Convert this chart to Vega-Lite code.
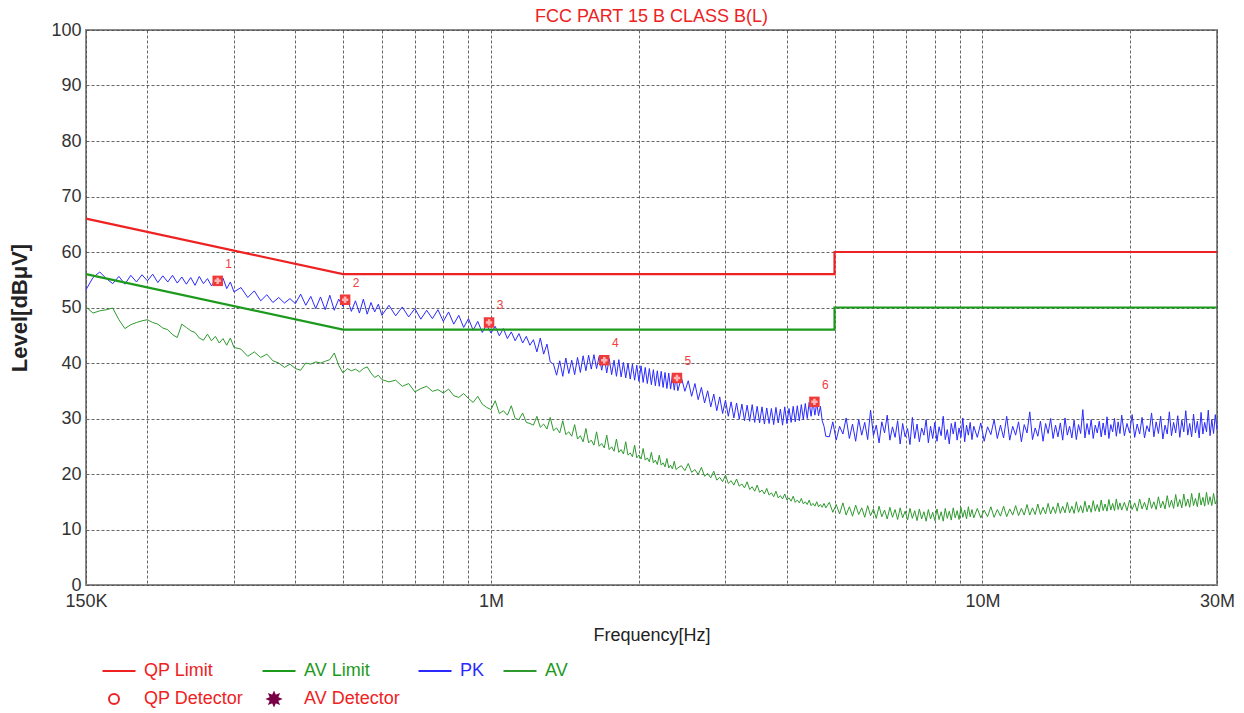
{
"$schema":"https://vega.github.io/schema/vega-lite/v6.json",
"width":1131,"height":555,
"autosize":{"type":"none"},
"padding":{"left":86,"top":30,"right":27,"bottom":128},
"background":"white",
"title":{"text":"FCC PART 15 B CLASS B(L)","color":"#ee2222","fontSize":18,"font":"Liberation Sans","fontWeight":"normal","frame":"group","offset":7,"dy":12},
"datasets":{
"limits":[
{"series":"QP Limit","kHz":150,"v":66,"o":1},{"series":"QP Limit","kHz":500,"v":56,"o":2},{"series":"QP Limit","kHz":5000,"v":56,"o":3},{"series":"QP Limit","kHz":5000,"v":60,"o":4},{"series":"QP Limit","kHz":30000,"v":60,"o":5},
{"series":"AV Limit","kHz":150,"v":56,"o":1},{"series":"AV Limit","kHz":500,"v":46,"o":2},{"series":"AV Limit","kHz":5000,"v":46,"o":3},{"series":"AV Limit","kHz":5000,"v":50,"o":4},{"series":"AV Limit","kHz":30000,"v":50,"o":5}
],
"markers":[
{"n":"1","kHz":278,"v":54.8},{"n":"2","kHz":505,"v":51.4},{"n":"3","kHz":991,"v":47.3},{"n":"4","kHz":1700,"v":40.5},{"n":"5","kHz":2390,"v":37.3},{"n":"6","kHz":4550,"v":33.0}
],
"traces":[
{"kHz":150,"PK":53.2,"AV":50.1},{"kHz":155,"PK":55.4,"AV":49.0},{"kHz":160,"PK":56.4,"AV":49.4},{"kHz":165,"PK":55.2,"AV":49.6},{"kHz":170,"PK":54.3,"AV":49.9},{"kHz":175,"PK":55.6,"AV":47.8},{"kHz":180,"PK":54.2,"AV":46.2},{"kHz":185,"PK":55.8,"AV":46.9},{"kHz":190,"PK":54.6,"AV":47.3},{"kHz":195,"PK":55.9,"AV":47.6},
{"kHz":200,"PK":54.8,"AV":47.8},{"kHz":205,"PK":56.0,"AV":47.3},{"kHz":210,"PK":54.5,"AV":47.0},{"kHz":215,"PK":55.7,"AV":46.3},{"kHz":220,"PK":54.6,"AV":46.0},{"kHz":225,"PK":55.8,"AV":45.1},{"kHz":230,"PK":54.4,"AV":44.6},{"kHz":235,"PK":55.5,"AV":47.0},{"kHz":240,"PK":54.2,"AV":46.4},{"kHz":245,"PK":55.4,"AV":45.8},
{"kHz":250,"PK":54.0,"AV":45.5},{"kHz":255,"PK":55.6,"AV":44.5},{"kHz":260,"PK":54.3,"AV":44.1},{"kHz":265,"PK":55.2,"AV":45.2},{"kHz":270,"PK":53.9,"AV":44.0},{"kHz":275,"PK":55.0,"AV":44.8},{"kHz":280,"PK":54.5,"AV":43.6},{"kHz":285,"PK":55.3,"AV":44.4},{"kHz":290,"PK":53.4,"AV":43.2},{"kHz":295,"PK":54.6,"AV":44.5},
{"kHz":300,"PK":52.8,"AV":42.8},{"kHz":310,"PK":53.6,"AV":42.5},{"kHz":320,"PK":51.8,"AV":41.2},{"kHz":330,"PK":53.0,"AV":42.0},{"kHz":340,"PK":51.2,"AV":41.0},{"kHz":350,"PK":52.3,"AV":41.6},{"kHz":360,"PK":50.9,"AV":40.4},{"kHz":370,"PK":51.8,"AV":40.0},{"kHz":380,"PK":50.8,"AV":39.2},{"kHz":390,"PK":51.6,"AV":39.8},
{"kHz":400,"PK":50.7,"AV":39.0},{"kHz":410,"PK":52.4,"AV":38.7},{"kHz":420,"PK":50.4,"AV":40.0},{"kHz":430,"PK":52.0,"AV":39.8},{"kHz":440,"PK":49.8,"AV":40.2},{"kHz":450,"PK":51.9,"AV":40.0},{"kHz":460,"PK":49.6,"AV":40.3},{"kHz":470,"PK":52.2,"AV":40.6},{"kHz":480,"PK":49.5,"AV":41.8},{"kHz":490,"PK":51.5,"AV":39.6},
{"kHz":500,"PK":50.2,"AV":38.2},{"kHz":510,"PK":51.7,"AV":39.0},{"kHz":520,"PK":49.3,"AV":38.6},{"kHz":530,"PK":51.2,"AV":38.9},{"kHz":540,"PK":49.0,"AV":38.4},{"kHz":550,"PK":51.5,"AV":39.0},{"kHz":560,"PK":48.8,"AV":39.3},{"kHz":570,"PK":50.9,"AV":38.2},{"kHz":580,"PK":49.2,"AV":37.4},{"kHz":590,"PK":50.6,"AV":37.8},
{"kHz":600,"PK":48.6,"AV":37.0},{"kHz":620,"PK":50.4,"AV":36.6},{"kHz":640,"PK":48.5,"AV":36.9},{"kHz":660,"PK":50.1,"AV":35.8},{"kHz":680,"PK":48.3,"AV":36.3},{"kHz":700,"PK":49.8,"AV":34.8},{"kHz":720,"PK":47.9,"AV":35.4},{"kHz":740,"PK":49.5,"AV":35.8},{"kHz":760,"PK":48.0,"AV":34.9},{"kHz":780,"PK":49.6,"AV":35.2},
{"kHz":800,"PK":47.5,"AV":34.6},{"kHz":820,"PK":49.2,"AV":35.3},{"kHz":840,"PK":47.0,"AV":34.1},{"kHz":860,"PK":48.6,"AV":33.8},{"kHz":880,"PK":46.4,"AV":34.5},{"kHz":900,"PK":48.0,"AV":33.6},{"kHz":920,"PK":45.9,"AV":32.9},{"kHz":940,"PK":47.5,"AV":34.0},{"kHz":960,"PK":45.5,"AV":32.6},{"kHz":980,"PK":46.9,"AV":32.0},
{"kHz":1000,"PK":45.4,"AV":31.6},{"kHz":1020,"PK":46.6,"AV":33.2},{"kHz":1040,"PK":44.9,"AV":30.9},{"kHz":1060,"PK":46.2,"AV":31.4},{"kHz":1080,"PK":44.4,"AV":30.6},{"kHz":1100,"PK":45.6,"AV":32.3},{"kHz":1120,"PK":44.0,"AV":30.0},{"kHz":1140,"PK":45.3,"AV":29.8},{"kHz":1160,"PK":43.6,"AV":31.0},{"kHz":1180,"PK":44.8,"AV":29.3},
{"kHz":1200,"PK":43.2,"AV":29.1},{"kHz":1220,"PK":44.2,"AV":28.8},{"kHz":1240,"PK":42.0,"AV":30.4},{"kHz":1260,"PK":44.5,"AV":28.4},{"kHz":1280,"PK":41.6,"AV":29.0},{"kHz":1300,"PK":43.4,"AV":28.1},{"kHz":1320,"PK":40.2,"AV":30.2},{"kHz":1340,"PK":39.8,"AV":27.8},{"kHz":1360,"PK":37.8,"AV":28.3},{"kHz":1380,"PK":40.4,"AV":27.4},
{"kHz":1400,"PK":37.6,"AV":29.6},{"kHz":1420,"PK":40.9,"AV":27.1},{"kHz":1440,"PK":38.1,"AV":27.6},{"kHz":1460,"PK":40.5,"AV":26.8},{"kHz":1480,"PK":37.9,"AV":28.9},{"kHz":1500,"PK":41.0,"AV":26.3},{"kHz":1520,"PK":38.3,"AV":26.9},{"kHz":1540,"PK":41.3,"AV":25.8},{"kHz":1560,"PK":38.6,"AV":28.2},{"kHz":1580,"PK":41.4,"AV":25.6},
{"kHz":1600,"PK":38.9,"AV":26.1},{"kHz":1620,"PK":41.5,"AV":25.2},{"kHz":1640,"PK":39.0,"AV":27.6},{"kHz":1660,"PK":41.2,"AV":25.0},{"kHz":1680,"PK":38.7,"AV":25.5},{"kHz":1700,"PK":41.1,"AV":24.7},{"kHz":1720,"PK":38.2,"AV":27.0},{"kHz":1740,"PK":40.8,"AV":24.4},{"kHz":1760,"PK":37.9,"AV":24.9},{"kHz":1780,"PK":40.5,"AV":24.1},
{"kHz":1800,"PK":37.6,"AV":26.3},{"kHz":1820,"PK":40.6,"AV":23.9},{"kHz":1840,"PK":37.5,"AV":24.4},{"kHz":1860,"PK":40.1,"AV":23.6},{"kHz":1880,"PK":37.3,"AV":25.8},{"kHz":1900,"PK":40.0,"AV":23.4},{"kHz":1920,"PK":37.1,"AV":23.8},{"kHz":1940,"PK":39.8,"AV":23.1},{"kHz":1960,"PK":36.9,"AV":25.2},{"kHz":1980,"PK":39.6,"AV":22.9},
{"kHz":2000,"PK":36.7,"AV":23.4},{"kHz":2020,"PK":39.5,"AV":22.7},{"kHz":2040,"PK":36.5,"AV":24.6},{"kHz":2060,"PK":39.2,"AV":22.5},{"kHz":2080,"PK":36.3,"AV":22.9},{"kHz":2100,"PK":39.0,"AV":22.2},{"kHz":2120,"PK":36.1,"AV":23.9},{"kHz":2140,"PK":38.8,"AV":22.0},{"kHz":2160,"PK":35.9,"AV":22.5},{"kHz":2180,"PK":38.6,"AV":21.7},
{"kHz":2200,"PK":35.8,"AV":23.4},{"kHz":2220,"PK":38.5,"AV":21.6},{"kHz":2240,"PK":35.6,"AV":22.0},{"kHz":2260,"PK":38.3,"AV":21.3},{"kHz":2280,"PK":35.4,"AV":22.8},{"kHz":2300,"PK":38.2,"AV":21.1},{"kHz":2320,"PK":35.3,"AV":21.6},{"kHz":2340,"PK":37.9,"AV":20.9},{"kHz":2360,"PK":35.1,"AV":22.3},{"kHz":2380,"PK":37.6,"AV":20.8},
{"kHz":2400,"PK":35.0,"AV":21.1},{"kHz":2440,"PK":37.4,"AV":21.5},{"kHz":2480,"PK":34.9,"AV":20.6},{"kHz":2520,"PK":36.8,"AV":21.9},{"kHz":2560,"PK":34.0,"AV":20.3},{"kHz":2600,"PK":36.3,"AV":20.8},{"kHz":2640,"PK":33.4,"AV":19.9},{"kHz":2680,"PK":35.6,"AV":21.2},{"kHz":2720,"PK":32.8,"AV":19.6},{"kHz":2760,"PK":35.0,"AV":20.1},
{"kHz":2800,"PK":32.1,"AV":19.3},{"kHz":2840,"PK":34.4,"AV":20.5},{"kHz":2880,"PK":31.4,"AV":18.9},{"kHz":2920,"PK":33.9,"AV":19.4},{"kHz":2960,"PK":30.9,"AV":18.6},{"kHz":3000,"PK":33.3,"AV":19.8},{"kHz":3040,"PK":30.4,"AV":18.3},{"kHz":3080,"PK":33.0,"AV":18.8},{"kHz":3120,"PK":30.1,"AV":18.0},{"kHz":3160,"PK":32.8,"AV":19.1},
{"kHz":3200,"PK":29.9,"AV":17.8},{"kHz":3240,"PK":32.6,"AV":18.2},{"kHz":3280,"PK":29.6,"AV":17.5},{"kHz":3320,"PK":32.4,"AV":18.6},{"kHz":3360,"PK":29.5,"AV":17.2},{"kHz":3400,"PK":32.5,"AV":17.7},{"kHz":3440,"PK":29.3,"AV":16.9},{"kHz":3480,"PK":32.2,"AV":18.0},{"kHz":3520,"PK":29.2,"AV":16.7},{"kHz":3560,"PK":32.1,"AV":17.1},
{"kHz":3600,"PK":29.0,"AV":16.4},{"kHz":3640,"PK":31.9,"AV":17.4},{"kHz":3680,"PK":29.1,"AV":16.2},{"kHz":3720,"PK":31.8,"AV":16.6},{"kHz":3760,"PK":28.9,"AV":15.9},{"kHz":3800,"PK":32.0,"AV":16.9},{"kHz":3840,"PK":29.2,"AV":15.7},{"kHz":3880,"PK":31.7,"AV":16.1},{"kHz":3920,"PK":28.8,"AV":15.5},{"kHz":3960,"PK":32.1,"AV":16.4},
{"kHz":4000,"PK":29.1,"AV":15.3},{"kHz":4040,"PK":31.8,"AV":15.7},{"kHz":4080,"PK":29.3,"AV":15.1},{"kHz":4120,"PK":32.2,"AV":16.0},{"kHz":4160,"PK":29.4,"AV":14.9},{"kHz":4200,"PK":32.3,"AV":15.3},{"kHz":4240,"PK":29.6,"AV":14.8},{"kHz":4280,"PK":32.5,"AV":15.6},{"kHz":4320,"PK":29.8,"AV":14.6},{"kHz":4360,"PK":32.7,"AV":15.0},
{"kHz":4400,"PK":30.0,"AV":14.5},{"kHz":4440,"PK":32.9,"AV":15.3},{"kHz":4480,"PK":30.4,"AV":14.3},{"kHz":4520,"PK":33.1,"AV":14.7},{"kHz":4560,"PK":30.6,"AV":14.2},{"kHz":4600,"PK":32.8,"AV":15.0},{"kHz":4640,"PK":30.5,"AV":14.1},{"kHz":4680,"PK":32.2,"AV":14.5},{"kHz":4720,"PK":29.6,"AV":14.0},{"kHz":4760,"PK":28.6,"AV":14.7},
{"kHz":4800,"PK":26.8,"AV":13.9},{"kHz":4880,"PK":26.7,"AV":14.9},{"kHz":4960,"PK":29.4,"AV":13.1},{"kHz":5040,"PK":26.1,"AV":14.5},{"kHz":5120,"PK":28.6,"AV":12.8},{"kHz":5200,"PK":27.2,"AV":14.8},{"kHz":5280,"PK":30.1,"AV":12.6},{"kHz":5360,"PK":26.4,"AV":14.1},{"kHz":5440,"PK":29.0,"AV":12.4},{"kHz":5520,"PK":25.9,"AV":14.4},
{"kHz":5600,"PK":29.8,"AV":12.7},{"kHz":5680,"PK":27.0,"AV":13.9},{"kHz":5760,"PK":29.3,"AV":12.2},{"kHz":5840,"PK":26.2,"AV":14.3},{"kHz":5920,"PK":31.5,"AV":12.5},{"kHz":6000,"PK":26.9,"AV":13.7},{"kHz":6080,"PK":28.8,"AV":12.0},{"kHz":6160,"PK":25.6,"AV":14.2},{"kHz":6240,"PK":29.4,"AV":12.3},{"kHz":6320,"PK":27.4,"AV":13.5},
{"kHz":6400,"PK":30.6,"AV":11.9},{"kHz":6480,"PK":26.1,"AV":14.0},{"kHz":6560,"PK":28.5,"AV":12.2},{"kHz":6640,"PK":26.6,"AV":13.6},{"kHz":6720,"PK":29.6,"AV":11.8},{"kHz":6800,"PK":25.4,"AV":13.9},{"kHz":6880,"PK":29.1,"AV":12.1},{"kHz":6960,"PK":26.7,"AV":13.3},{"kHz":7040,"PK":28.2,"AV":11.7},{"kHz":7120,"PK":25.3,"AV":13.8},
{"kHz":7200,"PK":30.2,"AV":12.0},{"kHz":7280,"PK":26.4,"AV":13.4},{"kHz":7360,"PK":29.0,"AV":11.6},{"kHz":7440,"PK":25.8,"AV":13.7},{"kHz":7520,"PK":28.3,"AV":11.9},{"kHz":7600,"PK":27.0,"AV":13.2},{"kHz":7680,"PK":29.8,"AV":11.5},{"kHz":7760,"PK":25.6,"AV":13.6},{"kHz":7840,"PK":28.6,"AV":11.9},{"kHz":7920,"PK":26.4,"AV":13.1},
{"kHz":8000,"PK":29.3,"AV":11.6},{"kHz":8080,"PK":25.9,"AV":13.7},{"kHz":8160,"PK":28.5,"AV":11.8},{"kHz":8240,"PK":26.9,"AV":13.2},{"kHz":8320,"PK":30.4,"AV":11.5},{"kHz":8400,"PK":26.2,"AV":13.8},{"kHz":8480,"PK":28.0,"AV":12.0},{"kHz":8560,"PK":25.4,"AV":13.3},{"kHz":8640,"PK":29.1,"AV":11.7},{"kHz":8720,"PK":27.2,"AV":13.9},
{"kHz":8800,"PK":29.4,"AV":12.1},{"kHz":8880,"PK":26.1,"AV":13.4},{"kHz":8960,"PK":28.3,"AV":11.8},{"kHz":9040,"PK":26.6,"AV":14.0},{"kHz":9120,"PK":30.1,"AV":12.2},{"kHz":9200,"PK":25.8,"AV":13.5},{"kHz":9280,"PK":28.8,"AV":11.9},{"kHz":9360,"PK":27.0,"AV":14.1},{"kHz":9440,"PK":29.3,"AV":12.3},{"kHz":9520,"PK":26.2,"AV":13.6},
{"kHz":9600,"PK":28.6,"AV":12.1},{"kHz":9760,"PK":26.6,"AV":13.8},{"kHz":9920,"PK":29.2,"AV":12.1},{"kHz":10080,"PK":25.9,"AV":13.5},{"kHz":10240,"PK":28.5,"AV":12.3},{"kHz":10400,"PK":27.1,"AV":14.1},{"kHz":10560,"PK":29.8,"AV":12.2},{"kHz":10720,"PK":26.4,"AV":13.6},{"kHz":10880,"PK":28.8,"AV":12.4},{"kHz":11040,"PK":26.5,"AV":14.2},
{"kHz":11200,"PK":30.4,"AV":12.3},{"kHz":11360,"PK":26.1,"AV":13.7},{"kHz":11520,"PK":28.6,"AV":12.6},{"kHz":11680,"PK":27.0,"AV":14.3},{"kHz":11840,"PK":29.4,"AV":12.5},{"kHz":12000,"PK":25.8,"AV":13.8},{"kHz":12160,"PK":28.9,"AV":12.6},{"kHz":12320,"PK":27.4,"AV":14.5},{"kHz":12480,"PK":31.2,"AV":12.6},{"kHz":12640,"PK":26.2,"AV":13.9},
{"kHz":12800,"PK":28.3,"AV":12.7},{"kHz":12960,"PK":26.8,"AV":14.6},{"kHz":13120,"PK":29.5,"AV":12.7},{"kHz":13280,"PK":25.9,"AV":14.0},{"kHz":13440,"PK":29.1,"AV":12.8},{"kHz":13600,"PK":27.3,"AV":14.7},{"kHz":13760,"PK":30.0,"AV":12.8},{"kHz":13920,"PK":26.4,"AV":14.1},{"kHz":14080,"PK":28.8,"AV":12.9},{"kHz":14240,"PK":26.7,"AV":14.8},
{"kHz":14400,"PK":29.2,"AV":12.9},{"kHz":14560,"PK":26.1,"AV":14.2},{"kHz":14720,"PK":30.1,"AV":13.0},{"kHz":14880,"PK":27.0,"AV":14.9},{"kHz":15040,"PK":28.6,"AV":13.0},{"kHz":15200,"PK":26.5,"AV":14.2},{"kHz":15360,"PK":29.7,"AV":12.9},{"kHz":15520,"PK":26.2,"AV":15.0},{"kHz":15680,"PK":28.9,"AV":13.1},{"kHz":15840,"PK":27.3,"AV":14.3},
{"kHz":16000,"PK":31.6,"AV":13.0},{"kHz":16160,"PK":26.5,"AV":15.1},{"kHz":16320,"PK":29.1,"AV":13.2},{"kHz":16480,"PK":27.1,"AV":14.4},{"kHz":16640,"PK":29.8,"AV":13.1},{"kHz":16800,"PK":26.4,"AV":15.2},{"kHz":16960,"PK":28.8,"AV":13.3},{"kHz":17120,"PK":27.4,"AV":14.5},{"kHz":17280,"PK":29.5,"AV":13.2},{"kHz":17440,"PK":26.7,"AV":15.3},
{"kHz":17600,"PK":29.2,"AV":13.4},{"kHz":17760,"PK":27.0,"AV":14.6},{"kHz":17920,"PK":30.3,"AV":13.3},{"kHz":18080,"PK":26.4,"AV":15.4},{"kHz":18240,"PK":28.9,"AV":13.5},{"kHz":18400,"PK":27.6,"AV":14.7},{"kHz":18560,"PK":30.0,"AV":13.4},{"kHz":18720,"PK":26.8,"AV":15.5},{"kHz":18880,"PK":29.4,"AV":13.6},{"kHz":19040,"PK":27.3,"AV":14.8},
{"kHz":19200,"PK":30.6,"AV":13.5},{"kHz":19440,"PK":26.9,"AV":14.9},{"kHz":19680,"PK":29.1,"AV":13.4},{"kHz":19920,"PK":27.4,"AV":15.3},{"kHz":20160,"PK":30.7,"AV":13.6},{"kHz":20400,"PK":26.6,"AV":14.8},{"kHz":20640,"PK":29.0,"AV":13.3},{"kHz":20880,"PK":27.2,"AV":15.5},{"kHz":21120,"PK":30.2,"AV":13.7},{"kHz":21360,"PK":26.5,"AV":14.9},
{"kHz":21600,"PK":28.7,"AV":13.5},{"kHz":21840,"PK":27.6,"AV":15.7},{"kHz":22080,"PK":31.0,"AV":13.8},{"kHz":22320,"PK":26.7,"AV":15.0},{"kHz":22560,"PK":29.4,"AV":13.6},{"kHz":22800,"PK":27.3,"AV":15.9},{"kHz":23040,"PK":30.4,"AV":13.9},{"kHz":23280,"PK":26.3,"AV":15.1},{"kHz":23520,"PK":28.8,"AV":13.7},{"kHz":23760,"PK":27.2,"AV":16.1},
{"kHz":24000,"PK":31.2,"AV":14.0},{"kHz":24240,"PK":26.9,"AV":15.3},{"kHz":24480,"PK":29.3,"AV":13.8},{"kHz":24720,"PK":27.4,"AV":16.3},{"kHz":24960,"PK":30.5,"AV":14.1},{"kHz":25200,"PK":26.6,"AV":15.4},{"kHz":25440,"PK":29.7,"AV":13.9},{"kHz":25680,"PK":27.6,"AV":16.4},{"kHz":25920,"PK":31.4,"AV":14.2},{"kHz":26160,"PK":27.0,"AV":15.5},
{"kHz":26400,"PK":29.1,"AV":14.0},{"kHz":26640,"PK":26.7,"AV":16.5},{"kHz":26880,"PK":30.8,"AV":14.3},{"kHz":27120,"PK":27.4,"AV":15.6},{"kHz":27360,"PK":29.5,"AV":14.1},{"kHz":27600,"PK":26.5,"AV":16.6},{"kHz":27840,"PK":31.1,"AV":14.4},{"kHz":28080,"PK":27.2,"AV":15.8},{"kHz":28320,"PK":29.3,"AV":14.2},{"kHz":28560,"PK":27.6,"AV":16.7},
{"kHz":28800,"PK":31.5,"AV":14.5},{"kHz":29040,"PK":26.9,"AV":15.9},{"kHz":29280,"PK":29.8,"AV":14.3},{"kHz":29520,"PK":27.3,"AV":16.5},{"kHz":29760,"PK":30.7,"AV":14.6},{"kHz":30000,"PK":28.0,"AV":15.4}
]
},
"encoding":{
"x":{"field":"kHz","type":"quantitative","scale":{"type":"log","domain":[150,30000],"nice":false,"zero":false},
 "axis":{"title":"Frequency[Hz]","values":[150,200,300,400,500,600,700,800,900,1000,2000,3000,4000,5000,6000,7000,8000,9000,10000,20000,30000],
 "labelExpr":"datum.value==150?'150K':datum.value==1000?'1M':datum.value==10000?'10M':datum.value==30000?'30M':''",
 "labelOverlap":false,"labelFlush":false,"labelPadding":7,"titlePadding":16}},
"y":{"field":"v","type":"quantitative","scale":{"domain":[0,100],"nice":false,"zero":false},
 "axis":{"title":"Level[dBμV]","values":[0,10,20,30,40,50,60,70,80,90,100],"titleFontWeight":"bold","titleFontSize":22,"titlePadding":19,"labelPadding":5}}
},
"layer":[
{"data":{"name":"traces"},"transform":[{"fold":["PK","AV"],"as":["series","v"]}],
 "mark":{"type":"line","strokeWidth":1,"interpolate":"linear"},
 "encoding":{"color":{"field":"series","type":"nominal",
  "scale":{"domain":["QP Limit","AV Limit","PK","AV","QP Detector","AV Detector"],"range":["#ee2222","#1c9a1c","#2a2aff","#2f9a2f","#ee2222","#7a0046"]},
  "legend":{"orient":"none","legendX":19,"legendY":632,"direction":"horizontal","columns":4,"title":null,
   "labelFont":"Liberation Sans","labelFontSize":18,
   "labelColor":{"expr":"datum.value=='AV Limit'||datum.value=='AV'?'#1c9a1c':datum.value=='PK'?'#2a2aff':'#ee2222'"},
   "labelExpr":"datum.value=='PK'?'PK\u00a0\u00a0\u00a0\u00a0':datum.label",
   "symbolType":{"expr":"datum.value=='QP Detector'?'circle':datum.value=='AV Detector'?'M1.2,0L0.6,0.25L0.85,0.85L0.25,0.6L0,1.2L-0.25,0.6L-0.85,0.85L-0.6,0.25L-1.2,0L-0.6,-0.25L-0.85,-0.85L-0.25,-0.6L0,-1.2L0.25,-0.6L0.85,-0.85L0.6,-0.25Z':'M-2.3,0H4.3'"},
   "symbolFillColor":{"expr":"datum.value=='AV Detector'?'#7a0046':'transparent'"},
   "symbolSize":100,"symbolStrokeWidth":2,"labelOffset":21,"columnPadding":14,"rowPadding":9}}}},
{"data":{"name":"limits"},
 "mark":{"type":"line","strokeWidth":2.2},
 "encoding":{"color":{"field":"series","type":"nominal"},"order":{"field":"o","type":"quantitative"}}},
{"data":{"name":"markers"},"mark":{"type":"point","shape":"square","filled":true,"color":"#f03a3a","size":110,"opacity":1}},
{"data":{"name":"markers"},"mark":{"type":"point","shape":"cross","filled":true,"color":"#ffb3b3","size":40,"opacity":1}},
{"data":{"name":"markers"},"mark":{"type":"text","dx":11,"dy":-17,"fontSize":12,"color":"#f04040","font":"Liberation Sans"},"encoding":{"text":{"field":"n"}}}
],
"resolve":{"scale":{"color":"shared"}},
"config":{
"font":"Liberation Sans",
"view":{"stroke":"#8a8a8a","strokeWidth":2},
"axis":{"domain":false,"ticks":false,"grid":true,"gridColor":"#4a4a4a","gridDash":[3,2],"gridWidth":1,"gridOpacity":0.85,
 "labelFont":"Liberation Sans","labelFontSize":18,"labelColor":"#333","titleFont":"Liberation Sans","titleFontSize":18,"titleColor":"#222","titleFontWeight":"normal"}
}
}
